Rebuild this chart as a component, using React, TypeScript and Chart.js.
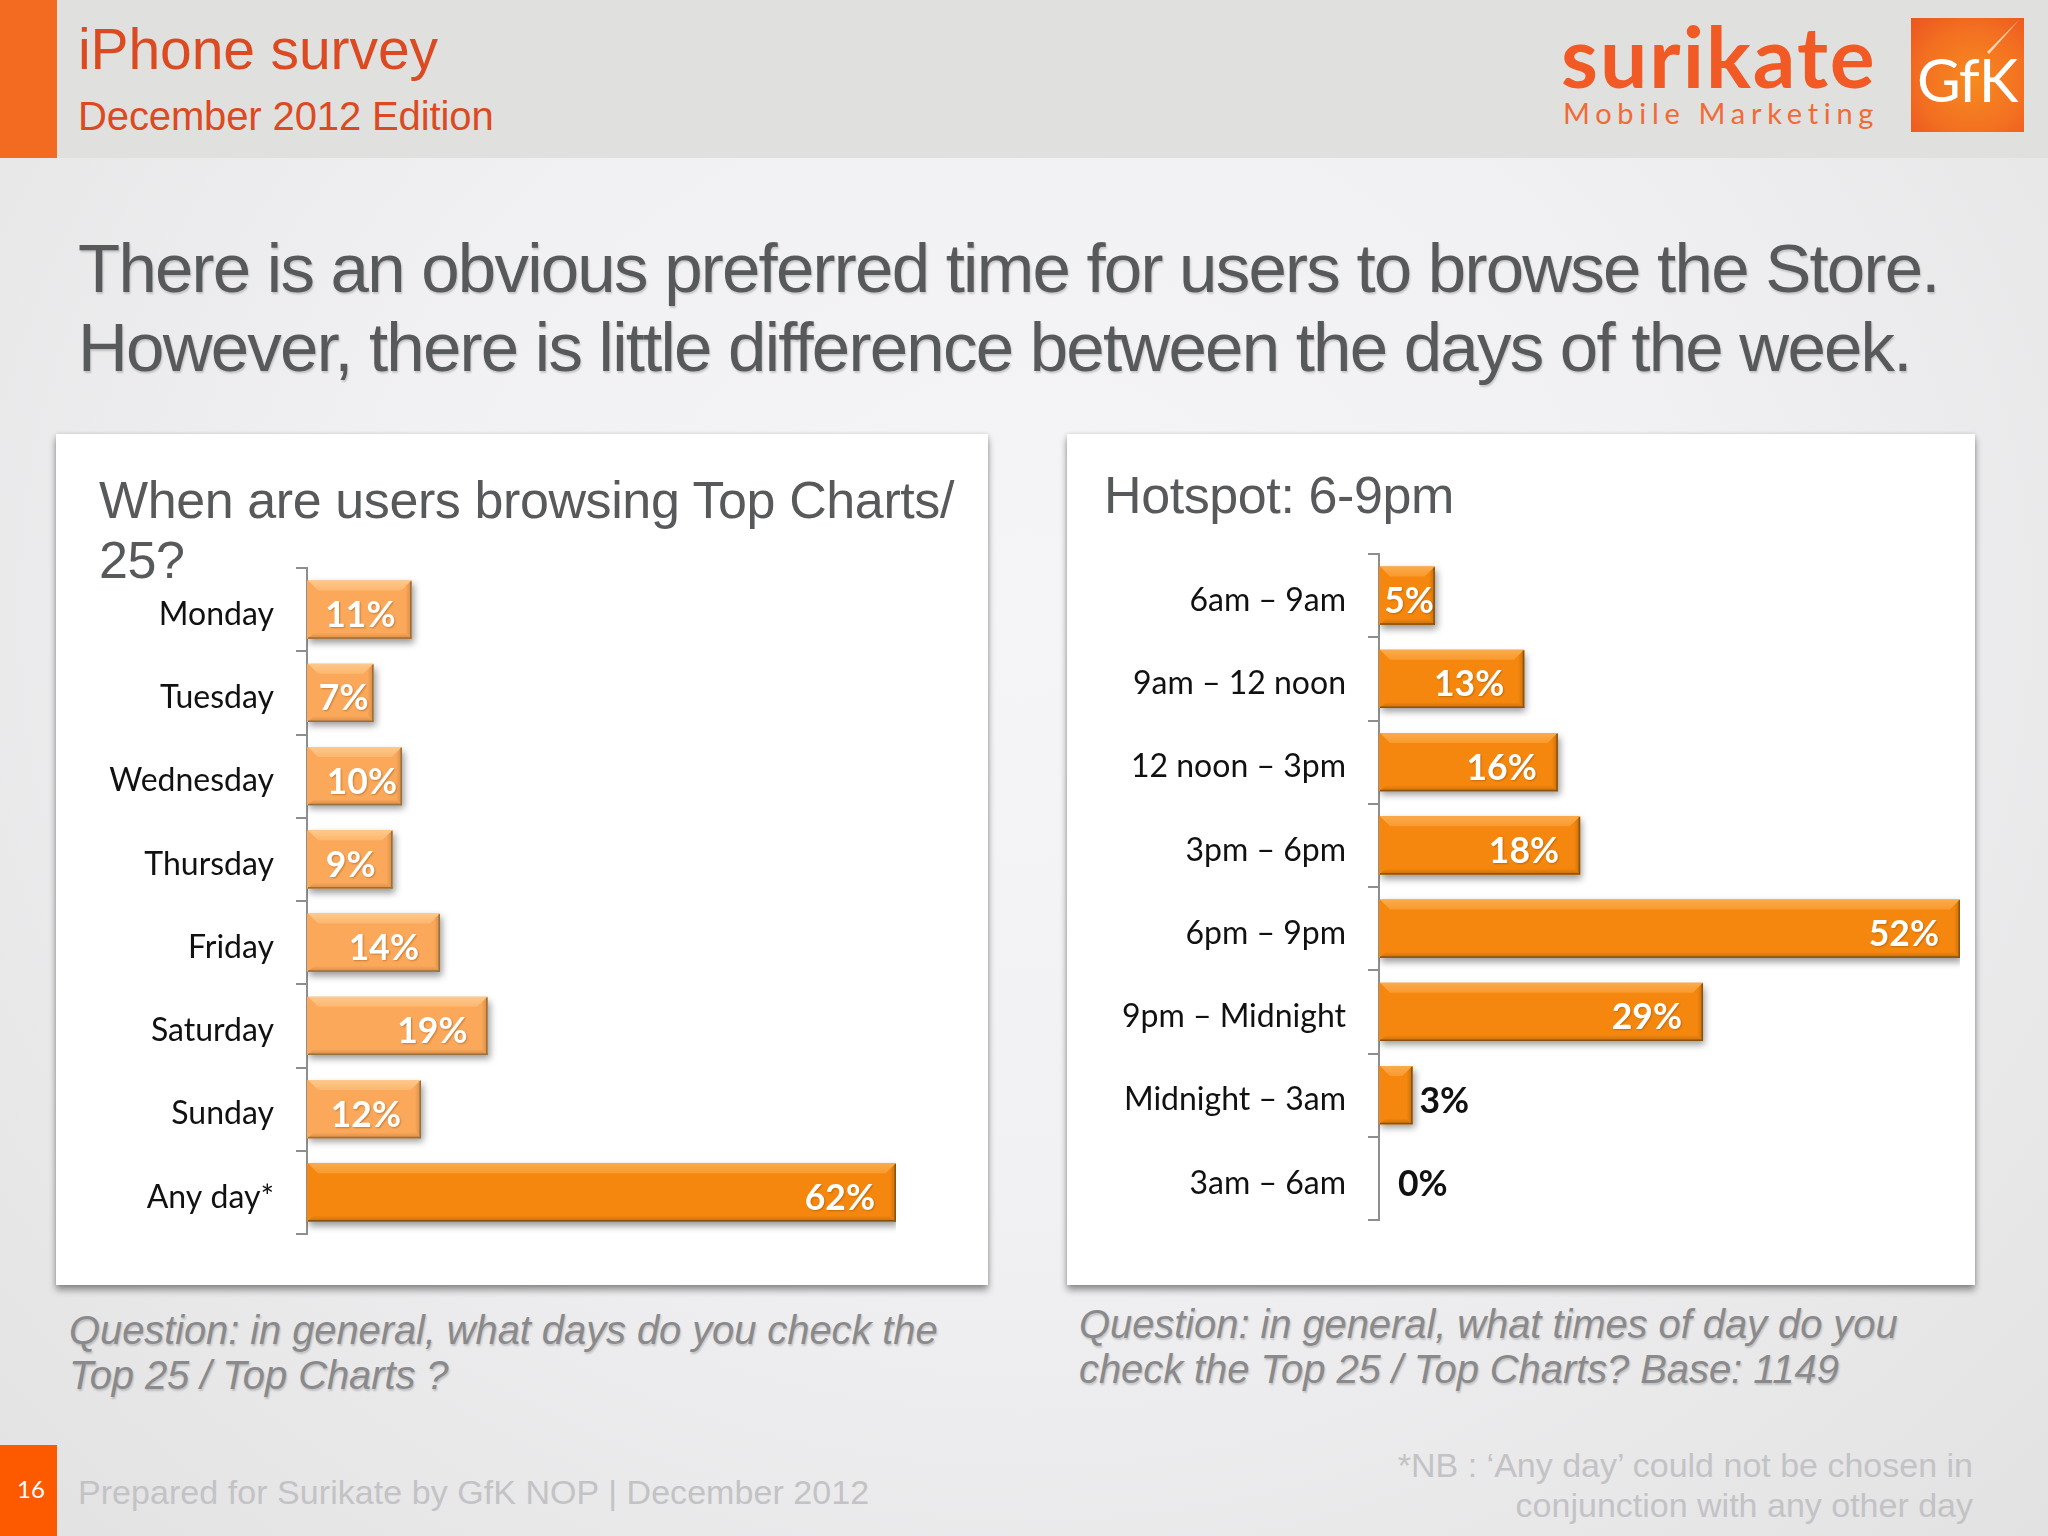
import React, { useEffect, useRef } from 'react';
import { Chart, registerables } from 'chart.js';

Chart.register(...registerables);

const dayLabels = ['Monday', 'Tuesday', 'Wednesday', 'Thursday', 'Friday', 'Saturday', 'Sunday', 'Any day*'];
const dayValues = [11, 7, 10, 9, 14, 19, 12, 62];
const timeLabels = ['6am – 9am', '9am – 12 noon', '12 noon – 3pm', '3pm – 6pm', '6pm – 9pm', '9pm – Midnight', 'Midnight – 3am', '3am – 6am'];
const timeValues = [5, 13, 16, 18, 52, 29, 3, 0];

// how far the value label sits from the bar end, negative means outside the bar
const dayInsets = [16, 5, 5, 17, 21, 20, 20, 21];
const timeInsets = [1, 20, 21, 21, 21, 21, -7, -19];

const LIGHT = { main: '#fba85a', top: '#fdc98c', mid: '#fcb76f', side: '#d68c45', edge: '#96703f' };
const DARK = { main: '#f5870e', top: '#fbab4c', mid: '#f99a2e', side: '#c66f0b', edge: '#8a520f' };

const poly = (ctx: any, pts: number[][], fill: any) => {
  ctx.fillStyle = fill;
  ctx.beginPath();
  pts.forEach(([x, y], i) => (i ? ctx.lineTo(x, y) : ctx.moveTo(x, y)));
  ctx.closePath();
  ctx.fill();
};

const barPlugin = (insets: number[], paletteFor: (i: number) => any) => ({
  id: 'bevelBars',
  beforeDatasetDraw(chart: any) {
    const ctx = chart.ctx;
    ctx.save();
    ctx.shadowColor = 'rgba(0,0,0,0.4)';
    ctx.shadowBlur = 7;
    ctx.shadowOffsetX = 2;
    ctx.shadowOffsetY = 4;
  },
  afterDatasetDraw(chart: any) {
    chart.ctx.restore();
  },
  afterDatasetsDraw(chart: any) {
    const ctx = chart.ctx;
    const bars = chart.getDatasetMeta(0).data;
    bars.forEach((bar: any, i: number) => {
      const value = chart.data.datasets[0].data[i];
      const left = bar.base + 1;
      const right = bar.x;
      const top = bar.y - bar.height / 2;
      const bottom = bar.y + bar.height / 2;
      const c = paletteFor(i);
      if (value > 0) {
        const b = Math.min(10, (right - left) / 2);
        const s = 6;
        const topFill = ctx.createLinearGradient(0, top, 0, top + b);
        topFill.addColorStop(0, c.top);
        topFill.addColorStop(1, c.mid);
        poly(ctx, [[left, top], [right, top], [right - b, top + b], [left + b, top + b]], topFill);
        const bottomFill = ctx.createLinearGradient(0, bottom - s, 0, bottom);
        bottomFill.addColorStop(0, c.main);
        bottomFill.addColorStop(1, c.side);
        poly(ctx, [[left, bottom], [right, bottom], [right - s, bottom - s], [left + s, bottom - s]], bottomFill);
        const sideFill = ctx.createLinearGradient(right - s, 0, right, 0);
        sideFill.addColorStop(0, c.main);
        sideFill.addColorStop(1, c.side);
        poly(ctx, [[right, top], [right, bottom], [right - s, bottom - s], [right - b, top + b]], sideFill);
        ctx.fillStyle = c.edge;
        ctx.fillRect(left, bottom - 1.5, right - left, 1.5);
        ctx.fillRect(right - 1.5, top + 1, 1.5, bottom - top - 1);
      }
      const inset = insets[i];
      ctx.font = 'bold 35.5px Lato';
      ctx.textBaseline = 'middle';
      const ly = bar.y + 6;
      if (inset >= 0) {
        ctx.textAlign = 'right';
        ctx.fillStyle = '#ffffff';
        ctx.shadowColor = 'rgba(120,60,0,0.4)';
        ctx.shadowBlur = 2;
        ctx.shadowOffsetX = 1;
        ctx.shadowOffsetY = 1;
        ctx.fillText(value + '%', right - inset, ly);
        ctx.shadowColor = 'transparent';
      } else {
        ctx.textAlign = 'left';
        ctx.fillStyle = '#111111';
        ctx.fillText(value + '%', right - inset, ly);
      }
    });
  },
});

function BarPanel({ left, top, width, height, labels, values, insets, axisWidth, padTop, padBottom, padRight, paletteFor }: any) {
  const ref = useRef<HTMLCanvasElement>(null);

  useEffect(() => {
    if (!ref.current) return;
    const chart = new Chart(ref.current, {
      type: 'bar',
      data: {
        labels,
        datasets: [{
          data: values,
          backgroundColor: values.map((_: number, i: number) => paletteFor(i).main),
          barPercentage: 0.7,
          categoryPercentage: 1,
        }],
      },
      options: {
        indexAxis: 'y',
        responsive: false,
        devicePixelRatio: 1,
        animation: false,
        layout: { padding: { top: padTop, bottom: padBottom, right: padRight, left: 0 } },
        plugins: { legend: { display: false }, tooltip: { enabled: false } },
        scales: {
          x: { display: false, min: 0, max: Math.max(...values) },
          y: {
            afterFit: (scale: any) => { scale.width = axisWidth; },
            afterUpdate: (scale: any) => {
              // Lato sits higher than the slide's font, nudge the tick labels down
              const compute = scale._computeLabelItems.bind(scale);
              scale._computeLabelItems = (area: any) =>
                compute(area).map((item: any) => ({ ...item, textOffset: item.textOffset + 5 }));
            },
            border: { display: true, color: '#8e8e8e', width: 2 },
            grid: { display: true, offset: true, drawOnChartArea: false, drawTicks: true, tickLength: 11, color: '#8e8e8e', lineWidth: 2 },
            ticks: { color: '#111111', font: { family: 'Lato', size: 32 }, padding: 22, autoSkip: false },
          },
        },
      } as any,
      plugins: [barPlugin(insets, paletteFor) as any],
    });
    return () => chart.destroy();
  }, []);

  return <canvas ref={ref} width={width} height={height} style={{ position: 'absolute', left, top, width, height }} />;
}

const Txt = ({ x, right, base, size, color, italic, font, spacing, weight, shadow, children }: any) => (
  <div style={{
    position: 'absolute',
    left: x,
    right: right !== undefined ? 2048 - right : undefined,
    top: base - size * 0.92,
    fontFamily: font || '"Liberation Sans"',
    fontSize: size,
    fontStyle: italic ? 'italic' : 'normal',
    fontWeight: weight || 400,
    letterSpacing: spacing,
    color,
    whiteSpace: 'nowrap',
    textShadow: shadow,
  }}>{children}</div>
);

const cardStyle = (left: number, width: number): React.CSSProperties => ({
  position: 'absolute',
  left,
  top: 434,
  width,
  height: 851,
  background: '#ffffff',
  boxShadow: '0 5px 7px rgba(0,0,0,0.4), 0 0 4px rgba(0,0,0,0.12)',
});

export default function App() {
  const softShadow = '1px 2px 2px rgba(0,0,0,0.18)';
  return (
    <div style={{
      position: 'absolute', left: 0, top: 0, width: 2048, height: 1536, overflow: 'hidden',
      background: 'radial-gradient(ellipse at 50% 40%, #f5f5f7 0%, #f1f1f3 45%, #e2e2e3 100%)',
    }}>
      <div style={{ position: 'absolute', left: 0, top: 0, width: 2048, height: 158, background: '#e0e0df' }} />
      <div style={{ position: 'absolute', left: 0, top: 0, width: 57, height: 158, background: '#f36b21' }} />
      <Txt x={78} base={68} size={57} spacing={-0.1} color="#dc4a22">iPhone survey</Txt>
      <Txt x={78} base={131} size={40} spacing={-0.12} color="#dc4a22">December 2012 Edition</Txt>

      <Txt x={1561} base={82} size={84} color="#f15a24" font="Lato" weight={700} spacing={2}>surikate</Txt>
      <Txt x={1563} base={122} size={29} color="#f26a36" font="Lato" spacing={5.7}>Mobile Marketing</Txt>
      <div style={{
        position: 'absolute', left: 1911, top: 18, width: 113, height: 114,
        background: 'radial-gradient(circle at 55% 55%, #f68b1f 0%, #f36f21 60%, #ea5520 100%)',
      }} />
      <svg width={113} height={114} style={{ position: 'absolute', left: 1911, top: 18 }}>
        <polygon points="108,2 76,34 78,36" fill="#ffd9b8" />
      </svg>
      <Txt x={1917} base={98} size={60} color="#ffffff" font="Lato" weight={400} spacing={-1}>GfK</Txt>

      <Txt x={78} base={292} size={69} color="#58595b" shadow={softShadow} spacing={-1.76}>There is an obvious preferred time for users to browse the Store.</Txt>
      <Txt x={78} base={371} size={69} color="#58595b" shadow={softShadow} spacing={-1.76}>However, there is little difference between the days of the week.</Txt>

      <div style={cardStyle(56, 932)} />
      <div style={cardStyle(1067, 908)} />

      <Txt x={99} base={518} size={52} spacing={-0.4} color="#58595b">When are users browsing Top Charts/</Txt>
      <Txt x={99} base={578} size={52} spacing={-0.4} color="#58595b">25?</Txt>
      <Txt x={1104} base={513} size={52} spacing={-0.4} color="#58595b">Hotspot: 6-9pm</Txt>

      <BarPanel
        left={56} top={434} width={932} height={851}
        labels={dayLabels} values={dayValues} insets={dayInsets}
        axisWidth={251} padTop={134} padBottom={51} padRight={92}
        paletteFor={(i: number) => (i === dayLabels.length - 1 ? DARK : LIGHT)}
      />
      <BarPanel
        left={1067} top={434} width={908} height={851}
        labels={timeLabels} values={timeValues} insets={timeInsets}
        axisWidth={312} padTop={120} padBottom={65} padRight={15}
        paletteFor={() => DARK}
      />

      <Txt x={69} base={1345} size={40} italic spacing={-0.11} color="#8a8a8c" shadow={softShadow}>Question: in general, what days do you check the</Txt>
      <Txt x={69} base={1390} size={40} italic spacing={-0.11} color="#8a8a8c" shadow={softShadow}>Top 25 / Top Charts ?</Txt>
      <Txt x={1079} base={1339} size={40} italic spacing={-0.09} color="#8a8a8c" shadow={softShadow}>Question: in general, what times of day do you</Txt>
      <Txt x={1079} base={1384} size={40} italic spacing={-0.09} color="#8a8a8c" shadow={softShadow}>check the Top 25 / Top Charts? Base: 1149</Txt>

      <div style={{ position: 'absolute', left: 0, top: 1445, width: 57, height: 91, background: '#fd5a00' }} />
      <Txt x={17} base={1496} size={24} color="#ffffff" font="Lato">16</Txt>
      <Txt x={78} base={1504} size={34} spacing={0.05} color="#c3c3c5">Prepared for Surikate by GfK NOP | December 2012</Txt>
      <Txt right={1973} base={1477} size={34} color="#c3c3c5">*NB : ‘Any day’ could not be chosen in</Txt>
      <Txt right={1973} base={1517} size={34} color="#c3c3c5">conjunction with any other day</Txt>
    </div>
  );
}
